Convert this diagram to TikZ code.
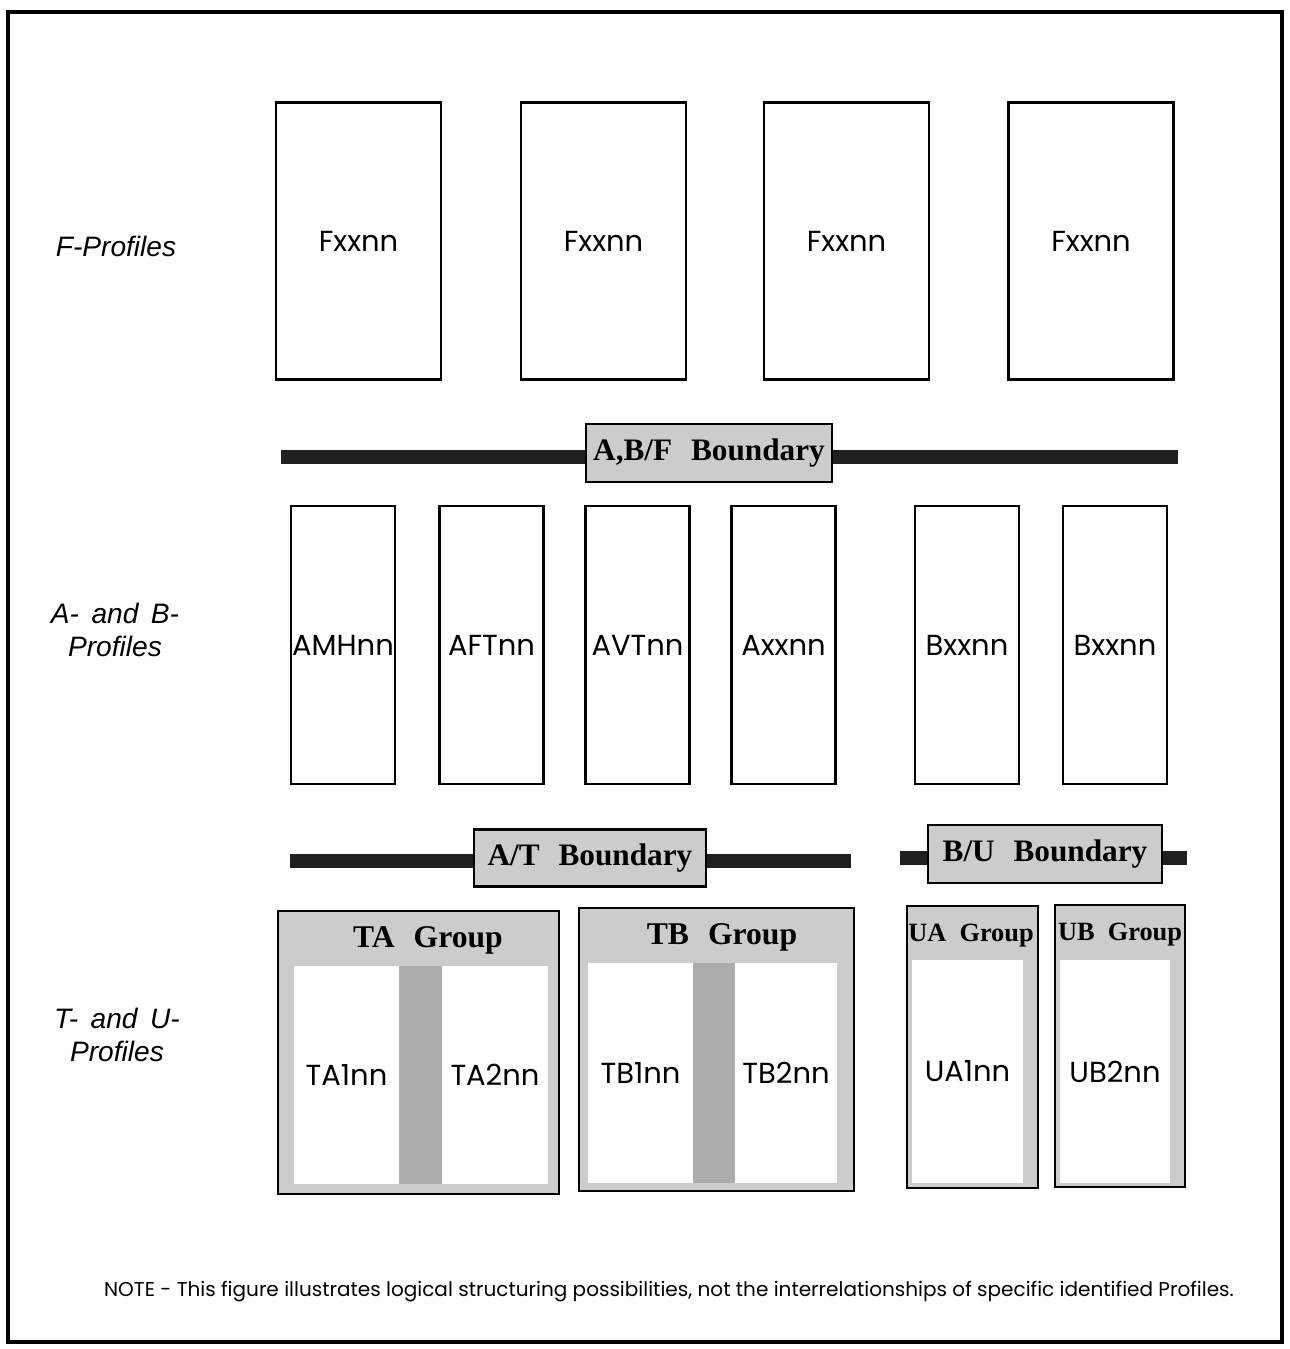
\documentclass[tikz,border=0pt]{standalone}
\usepackage{fontspec}
\setmainfont{Poppins}
\newfontfamily\bndfont{Liberation Serif}
\newfontfamily\sidefont{Liberation Sans}
\usetikzlibrary{positioning}
\tikzset{
    %Define shade colours
    shadeclr/.style={fill=black!20},
    stripclr/.style={fill=black!32},
}

\begin{document}
\begin{tikzpicture}[x=0.02cm, y=-0.02cm]
    	\tikzset{
	  pf/.style={draw, fill=white,
	             line width=1.2pt,
	             inner sep=0pt,
		     minimum width=2.08cm, minimum height=5.56cm,
	             font=\fontsize{16.5}{18}\selectfont},
	  ff/.style={pf, minimum width=3.3cm, minimum height=5.54cm},
	  bar/.style={line width=0.28cm, black!88},
	  bnd/.style={draw, shadeclr, line width=1.2pt,
	             minimum height=1.16cm, inner sep=0pt,
	             font=\bndfont\bfseries\fontsize{17.8}{20}\selectfont},
	  grp/.style={draw, shadeclr, line width=1.6pt, inner sep=0pt},
	  inner/.style={fill=white, inner sep=0pt, font=\fontsize{16.5}{18}\selectfont},
	  grptxt/.style={font=\bndfont\bfseries\fontsize{18}{20}\selectfont, inner sep=0pt},
	  side/.style={font=\sidefont\itshape\fontsize{16}{19}\selectfont, align=center}
	}

	\useasboundingbox (0,0) rectangle (1289,1349);
	\draw[line width=0.09cm] (8,12) rectangle (1282,1342);

	% row labels
	\node[side] (flabel) at (116,246) {F-Profiles};
	\node[side] (ablabel) at (115,630) {A-\, and\, B-\\Profiles};
	\node[side] (tulabel) at (117,1035) {T-\, and\, U-\\Profiles};

	% F-Profiles
	\node[ff] (f1) at (358.5,241) {Fxxnn};
	\node[ff] (f2) at (603.5,241) {Fxxnn};
	\node[ff] (f3) at (846.5,241) {Fxxnn};
	\node[ff] (f4) at (1091,241) {Fxxnn};

	% A,B/F boundary
	\coordinate (abfL) at (281,457);
	\coordinate (abfR) at (1178,457);
	\draw[bar] (abfL) -- (abfR);
	\node[bnd, minimum width=4.92cm] (abf) at (709,453) {A,B/F\hspace{0.35em} Boundary};

	% A- and B-Profiles
	\node[pf] (amh) at (343,645) {AMHnn};
	\node[pf] (aft) at (491.5,645) {AFTnn};
	\node[pf] (avt) at (637.5,645) {AVTnn};
	\node[pf] (axx) at (783.5,645) {Axxnn};
	\node[pf] (bx1) at (967,645) {Bxxnn};
	\node[pf] (bx2) at (1115,645) {Bxxnn};

	% A/T and B/U boundaries
	\coordinate (atL) at (290,861);
	\coordinate (atR) at (851,861);
	\draw[bar] (atL) -- (atR);
	\node[bnd, minimum width=4.64cm, minimum height=1.14cm] (at) at (590,858) {A/T\hspace{0.35em} Boundary};
	\coordinate (buL) at (900,858);
	\coordinate (buR) at (1187,858);
	\draw[bar] (buL) -- (buR);
	\node[bnd, minimum width=4.68cm] (bu) at (1045,854) {B/U\hspace{0.35em} Boundary};

	% TA group
	\node[grp, minimum width=5.62cm, minimum height=5.66cm] (ta) at (418.5,1052.5) {};
	\node[grptxt] (tahead) at (428,940) {TA\hspace{0.35em} Group};
	\fill[stripclr] (399,966) rectangle (442,1184);
	\node[inner, minimum width=2.1cm, minimum height=4.36cm] (ta1) at (346.5,1075) {TA1nn};
	\node[inner, minimum width=2.12cm, minimum height=4.36cm] (ta2) at (495,1075) {TA2nn};

	% TB group
	\node[grp, minimum width=5.5cm, minimum height=5.66cm] (tb) at (716.5,1049.5) {};
	\node[grptxt] (tbhead) at (722,937) {TB\hspace{0.35em} Group};
	\fill[stripclr] (693,963) rectangle (735,1183);
	\node[inner, minimum width=2.1cm, minimum height=4.4cm] (tb1) at (640.5,1073) {TB1nn};
	\node[inner, minimum width=2.04cm, minimum height=4.4cm] (tb2) at (786,1073) {TB2nn};

	% UA and UB groups
	\node[grp, minimum width=2.62cm, minimum height=5.64cm] (ua) at (972.5,1047) {};
	\node[grptxt, font=\bndfont\bfseries\fontsize{15}{17}\selectfont] (uahead) at (971,936) {UA\hspace{0.25em} Group};
	\node[inner, minimum width=2.22cm, minimum height=4.46cm] (ua1) at (967.5,1071.5) {UA1nn};
	\node[grp, minimum width=2.6cm, minimum height=5.64cm] (ub) at (1120,1046) {};
	\node[grptxt, font=\bndfont\bfseries\fontsize{15}{17}\selectfont] (ubhead) at (1120,935) {UB\hspace{0.25em} Group};
	\node[inner, minimum width=2.2cm, minimum height=4.46cm] (ub2) at (1115,1071.5) {UB2nn};

	\node[font=\fontsize{11.4}{13}\selectfont] (note) at (669,1292) {NOTE - This figure illustrates logical structuring possibilities, not the interrelationships of specific identified Profiles.};

\end{tikzpicture}
\end{document}
